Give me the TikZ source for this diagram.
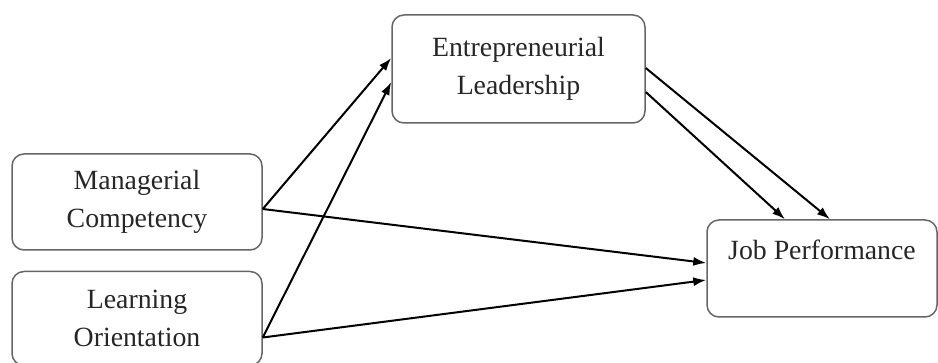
\documentclass[tikz,border=0pt]{standalone}
\usepackage{fontspec}
\setmainfont{Liberation Serif}
\usetikzlibrary{positioning}
\usetikzlibrary{shapes,arrows.meta}

\tikzset{
  var/.style={draw=black!60, line width=1.5pt, rounded corners=12pt,
    align=center, inner sep=0pt, text=black!85,
    font=\rmfamily\fontsize{27.8}{38}\selectfont},
  link/.style={-{Latex[length=13pt,width=9pt]}, line width=2pt},
}

\begin{document}
\begin{tikzpicture}[x=1pt,y=-1pt]
  \useasboundingbox (0,0) rectangle (938,363);
  \node[var, minimum width=253pt, minimum height=108pt] (el) at (518.5,69) {Entrepreneurial\\Leadership};
  \node[var, minimum width=250pt, minimum height=96pt] (mc) at (137,202) {Managerial\\Competency};
  \node[var, minimum width=250pt, minimum height=94pt, below=20pt of mc] (lo) {Learning\\Orientation};
  \node[var, minimum width=230pt, minimum height=97pt] (jp) at (822,268.5) {Job Performance\\~};
  % paths into the mediator
  \draw[link] ([yshift=-7pt]mc.east) -- ([yshift=11pt]el.west);
  \draw[link] ([yshift=-19pt]lo.east) -- ([yshift=-13pt]el.west);
  % direct paths
  \draw[link] ([yshift=-7pt]mc.east) -- ([yshift=5.5pt]jp.west);
  \draw[link] ([yshift=-19pt]lo.east) -- ([yshift=-11.5pt]jp.west);
  % mediator to outcome
  \draw[link] ([yshift=1pt]el.east) -- ([xshift=8pt]jp.north);
  \draw[link] ([yshift=-23pt]el.east) -- ([xshift=-37pt]jp.north);
\end{tikzpicture}
\end{document}
